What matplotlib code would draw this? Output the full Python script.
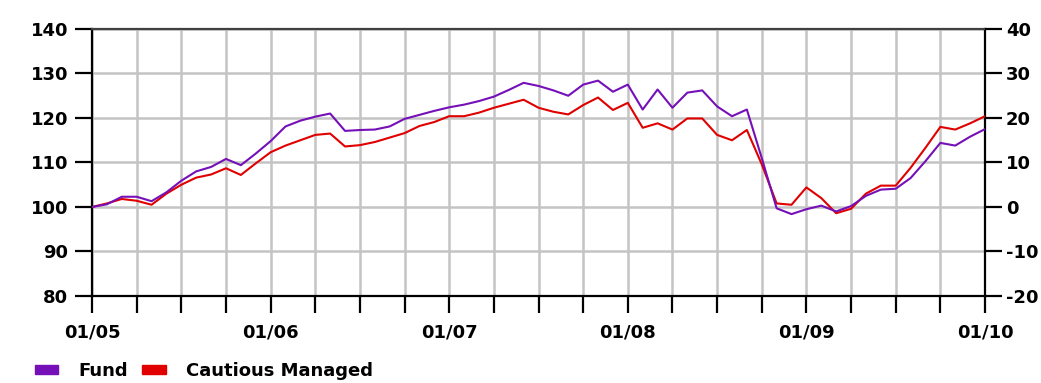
import matplotlib
matplotlib.use("Agg")
import matplotlib.pyplot as plt
from matplotlib.patches import Patch

plt.rcParams["font.family"] = ["DejaVu Sans"]
plt.rcParams["font.weight"] = "bold"
plt.rcParams["axes.unicode_minus"] = False

# monthly index values, Jan 2005 .. Jan 2010 (rebased to 100)
fund = [100, 100.6, 102.3, 102.3, 101.3, 103.3, 105.9, 108.0, 109.0, 110.8,
        109.4, 112.0, 114.8, 118.1, 119.4, 120.3, 121.0, 117.1, 117.3, 117.4,
        118.1, 119.8, 120.7, 121.6, 122.4, 123.0, 123.8, 124.8, 126.3, 127.9,
        127.2, 126.2, 125.0, 127.5, 128.4, 125.9, 127.5, 121.9, 126.4, 122.3,
        125.7, 126.2, 122.6, 120.4, 121.9, 111.0, 99.7, 98.4, 99.5, 100.3,
        99.0, 100.2, 102.5, 103.9, 104.1, 106.5, 110.3, 114.4, 113.8, 115.8, 117.5]
cautious = [100, 100.8, 101.8, 101.4, 100.5, 103.0, 105.0, 106.6, 107.3, 108.7,
            107.2, 109.8, 112.3, 113.8, 115.0, 116.2, 116.5, 113.6, 113.9, 114.6,
            115.6, 116.6, 118.2, 119.1, 120.4, 120.4, 121.2, 122.3, 123.2, 124.1,
            122.3, 121.4, 120.8, 122.9, 124.6, 121.8, 123.4, 117.8, 118.8, 117.4,
            119.9, 119.9, 116.2, 115.0, 117.3, 109.6, 100.8, 100.5, 104.4, 102.0,
            98.6, 99.6, 103.0, 104.8, 104.8, 108.8, 113.3, 118.0, 117.4, 118.8, 120.4]
year_labels = ["01/05", "01/06", "01/07", "01/08", "01/09", "01/10"]
months = list(range(len(fund)))

purple = "#7510b8"
red = "#e00000"

fig = plt.figure(figsize=(10.41, 3.83), dpi=100)
ax = fig.add_axes([0.0884, 0.2272, 0.8578, 0.6971])

ax.plot(months, cautious, color=red, lw=1.5, zorder=3)
ax.plot(months, fund, color=purple, lw=1.5, zorder=4)

ax.set_xlim(0, 60)
ax.set_ylim(80, 140)
ax.set_yticks(range(80, 141, 10))
ax.set_xticks(range(0, 61, 3))
ax.set_xticklabels([year_labels[m // 12] if m % 12 == 0 else "" for m in range(0, 61, 3)])
ax.grid(True, color="#c4c4c4", lw=1.8, zorder=0)
ax.set_axisbelow(True)

ax.tick_params(axis="both", length=12, width=1.6, color="black", labelsize=13)
ax.tick_params(axis="y", pad=5)
ax.tick_params(axis="x", pad=8)
for s in ["left", "bottom", "right"]:
    ax.spines[s].set_linewidth(1.6)
    ax.spines[s].set_color("black")
ax.spines["top"].set_linewidth(1.6)
ax.spines["top"].set_color("#404040")

ax2 = ax.twinx()
ax2.set_ylim(-20, 40)
ax2.set_yticks(range(-20, 41, 10))
ax2.tick_params(axis="y", length=12, width=1.6, color="black", labelsize=13, pad=3)
for s in ax2.spines.values():
    s.set_visible(False)

handles = [Patch(color=purple), Patch(color=red)]
fig.legend(handles, ["Fund", "Cautious Managed"], loc="lower left",
           bbox_to_anchor=(0.018, -0.035), ncol=2, frameon=False,
           fontsize=13, handlelength=1.3, handleheight=0.4,
           handletextpad=1.1, columnspacing=0.8)

fig.savefig("out.png", dpi=100)
